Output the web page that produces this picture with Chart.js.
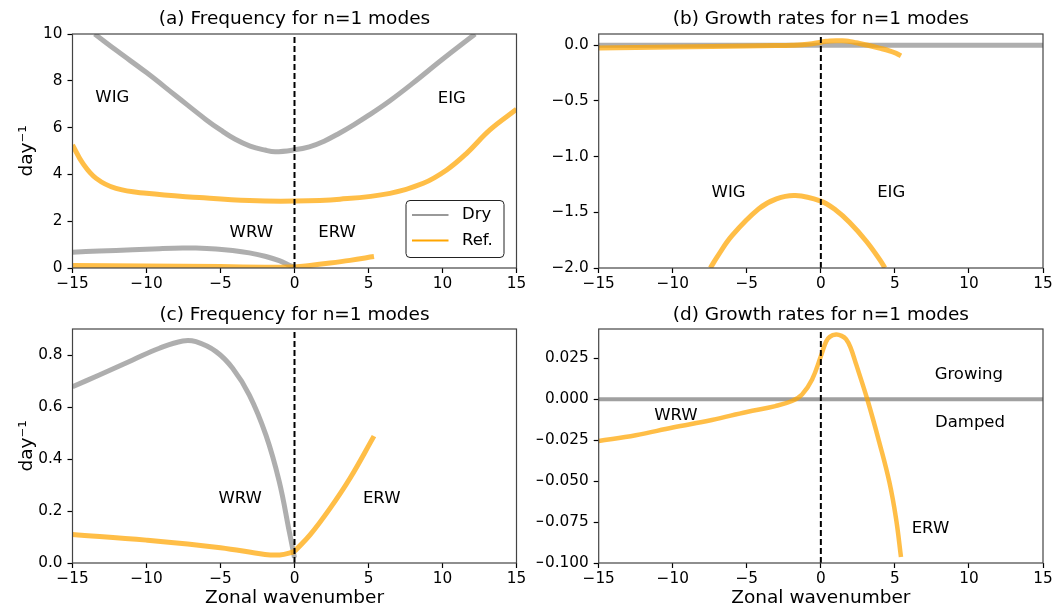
<!DOCTYPE html>
<html lang="en">
<head>
<meta charset="UTF-8">
<title>n=1 modes</title>
<script src="https://cdn.jsdelivr.net/npm/chart.js@4.4.1/dist/chart.umd.min.js"></script>
<style>
    html, body { margin: 0; padding: 0; background: #fff; }
    #fig { position: relative; width: 1056px; height: 609px; }
    #fig canvas { position: absolute; left: 0; top: 0; }
</style>
</head>
<body>
<div id="fig">
    <canvas id="panelA" width="1056" height="609"></canvas>
    <canvas id="panelB" width="1056" height="609"></canvas>
    <canvas id="panelC" width="1056" height="609"></canvas>
    <canvas id="panelD" width="1056" height="609"></canvas>
</div>

<script>
// ---- tick values ----
const kTicks = [-15, -10, -5, 0, 5, 10, 15];
const freqTicks = [0, 2, 4, 6, 8, 10];
const growthTicks = [-2.0, -1.5, -1.0, -0.5, 0.0];
const rossbyFreqTicks = [0, 0.2, 0.4, 0.6, 0.8];
const rossbyGrowthTicks = [-0.1, -0.075, -0.05, -0.025, 0, 0.025];

// ---- axis ranges ----
const kRange = [-15, 15];
const freqRange = [0, 10];
const growthRange = [-2.0, 0.1];
const rossbyFreqRange = [0, 0.9];
const rossbyGrowthRange = [-0.1, 0.043];

// ---- Dry inertia-gravity frequency (WIG for k<0, EIG for k>0) ----
const igDryK    = [-13.5, -12, -10, -8, -6, -5, -4, -3, -2, -1.3, 0, 1, 2, 3, 4, 5, 6.45, 8, 10, 12.2];
const igDryFreq = [10.0, 9.28, 8.35, 7.35, 6.35, 5.9, 5.5, 5.21, 5.04, 4.97, 5.05, 5.18, 5.42, 5.75, 6.12, 6.52, 7.15, 7.9, 8.92, 10.0];

// ---- Ref inertia-gravity frequency ----
const igRefK    = [-15, -14.3, -13.4, -12.06, -10, -6.43, -3.05, 0, 3.07, 6.45, 8.7, 10.28, 11.63, 13.2, 15];
const igRefFreq = [5.26, 4.47, 3.83, 3.40, 3.19, 3.01, 2.88, 2.86, 2.94, 3.19, 3.62, 4.19, 4.9, 5.9, 6.78];

// ---- Dry Rossby frequency (WRW) ----
const wrwDryK    = [-15, -13.19, -10.93, -9.13, -7.55, -6.66, -5.3, -4.18, -3.05, -1.93, -1.03, -0.35, 0];
const wrwDryFreq = [0.678, 0.723, 0.781, 0.826, 0.854, 0.851, 0.813, 0.749, 0.646, 0.492, 0.313, 0.12, 0.02];

// ---- Ref Rossby frequency (WRW for k<0, ERW for k>0) ----
const wrwRefK    = [-15, -10, -5, -2, -1, 0];
const wrwRefFreq = [0.110, 0.088, 0.059, 0.033, 0.031, 0.043];
const erwRefK    = [0, 1.05, 2.4, 3.75, 5.37];
const erwRefFreq = [0.045, 0.108, 0.21, 0.326, 0.488];

// ---- growth rates ----
const dryGrowthK = [-15, 15];
const dryGrowth  = [0, 0];
const igRefGrowthK = [-7.46, -7, -6, -4.2, -3, -1.72, 0, 1, 1.93, 3.07, 4, 4.32];
const igRefGrowth  = [-2.0, -1.9, -1.71, -1.47, -1.38, -1.35, -1.40, -1.48, -1.59, -1.76, -1.93, -2.0];
const rwRefGrowthK = [-15, -12.5, -10, -7.36, -5, -3.07, -1.95, -1.27, -0.59, 0, 0.35, 0.6, 1.03, 1.4, 1.7, 2.0, 2.38, 3.17, 3.95, 4.63, 5.08, 5.41];
const rwRefGrowth  = [-0.0254, -0.0219, -0.0172, -0.0126, -0.0077, -0.0041, -0.001, 0.003, 0.0122, 0.0263, 0.0352, 0.0382, 0.0396, 0.0388, 0.0368, 0.0318, 0.0215, -0.001, -0.0264, -0.0507, -0.073, -0.0963];

const DRY = 'rgba(128,128,128,0.64)';
const REF = 'rgba(255,165,0,0.72)';
const FONT = 'DejaVu Sans';

Chart.defaults.font.family = FONT;
Chart.defaults.color = '#000';

function pts(xs, ys) {
    return xs.map((x, i) => ({ x: x, y: ys[i] }));
}

function curve(xs, ys, color, width, order) {
    return {
        data: pts(xs, ys), showLine: true, borderColor: color, borderWidth: width,
        pointRadius: 0, tension: 0.4, clip: 0, order: order
    };
}

function zeroK(range) {
    return {
        data: pts([0, 0], range), showLine: true, borderColor: '#000', borderWidth: 2,
        borderDash: [6, 3], pointRadius: 0, clip: 0, order: -1
    };
}

const minus = s => s.replace('-', '\u2212');

const framePlugin = {
    id: 'frame',
    afterDatasetsDraw(chart) {
        const a = chart.chartArea, ctx = chart.ctx;
        ctx.save();
        ctx.strokeStyle = '#444';
        ctx.lineWidth = 1.2;
        ctx.strokeRect(a.left, a.top, a.right - a.left, a.bottom - a.top);
        ctx.restore();
    }
};

function textPlugin(labels) {
    return {
        id: 'regionText',
        afterDatasetsDraw(chart) {
            const ctx = chart.ctx, xs = chart.scales.x, ys = chart.scales.y;
            ctx.save();
            ctx.font = '16.5px "' + FONT + '"';
            ctx.fillStyle = '#000';
            ctx.textAlign = 'center';
            ctx.textBaseline = 'middle';
            labels.forEach(l => ctx.fillText(l[0], xs.getPixelForValue(l[1]), ys.getPixelForValue(l[2])));
            ctx.restore();
        }
    };
}

const legendPlugin = {
    id: 'boxLegend',
    afterDraw(chart) {
        const a = chart.chartArea, ctx = chart.ctx;
        const w = 98, h = 57;
        const x0 = a.right - 13 - w, y0 = a.bottom - 11 - h;
        ctx.save();
        ctx.fillStyle = '#fff';
        ctx.strokeStyle = '#222';
        ctx.lineWidth = 1;
        ctx.beginPath();
        ctx.roundRect(x0 + 0.5, y0 + 0.5, w, h, 4);
        ctx.fill();
        ctx.stroke();
        const items = [['Dry', '#999999'], ['Ref.', '#ffa500']];
        ctx.font = '16.5px "' + FONT + '"';
        ctx.textBaseline = 'middle';
        items.forEach((it, i) => {
            const y = y0 + 15 + i * 25.5;
            ctx.strokeStyle = it[1];
            ctx.lineWidth = 2.2;
            ctx.beginPath();
            ctx.moveTo(x0 + 6.5, y);
            ctx.lineTo(x0 + 43, y);
            ctx.stroke();
            ctx.fillStyle = '#000';
            ctx.fillText(it[0], x0 + 56.5, y);
        });
        ctx.restore();
    }
};

function panel(id, o) {
    const yW = 62;
    const lh = 18.5 * 1.2;
    const tickGrid = { drawOnChartArea: false, tickLength: 5, tickColor: '#000', tickWidth: 1.2 };
    const plugins = [framePlugin, textPlugin(o.labels)];
    if (o.legend) plugins.push(legendPlugin);
    return new Chart(document.getElementById(id), {
        type: 'scatter',
        data: { datasets: o.datasets },
        options: {
            responsive: false,
            animation: false,
            layout: {
                padding: {
                    left: o.area[0] - yW, right: 1056 - o.area[2],
                    top: o.titleY - lh / 2, bottom: 609 - o.area[3] - o.xH
                }
            },
            plugins: {
                legend: { display: false },
                tooltip: { enabled: false },
                title: {
                    display: true, text: o.title, fullSize: false, color: '#000',
                    font: { size: 18.5, weight: 'normal' },
                    padding: { top: 0, bottom: o.area[1] - o.titleY - lh / 2 }
                }
            },
            scales: {
                x: {
                    type: 'linear', min: kRange[0], max: kRange[1],
                    afterBuildTicks: s => { s.ticks = kTicks.map(v => ({ value: v })); },
                    afterFit: s => { s.height = o.xH; },
                    grid: tickGrid, border: { display: false },
                    ticks: { padding: 2, autoSkip: false, maxRotation: 0, font: { size: 15.3 }, color: '#000',
                             callback: v => minus(String(v)) },
                    title: { display: !!o.xLabel, text: o.xLabel || '', color: '#000',
                             font: { size: 18.5 }, padding: { top: 0, bottom: 0 } }
                },
                y: {
                    type: 'linear', min: o.yRange[0], max: o.yRange[1],
                    afterBuildTicks: s => { s.ticks = o.yTicks.map(v => ({ value: v })); },
                    afterFit: s => { s.width = yW; },
                    grid: tickGrid, border: { display: false },
                    ticks: { padding: 5, autoSkip: false, font: { size: 15.3 }, color: '#000',
                             callback: v => minus(o.yFmt(v)) },
                    title: { display: !!o.yLabel, text: o.yLabel || '', color: '#000',
                             font: { size: 18.5 }, padding: { top: 6, bottom: 0 } }
                }
            }
        },
        plugins: plugins
    });
}

// (a) frequency, full range
panel('panelA', {
    title: '(a) Frequency for n=1 modes',
    area: [72.5, 34, 516.5, 268], titleY: 19, xH: 30,
    yRange: freqRange, yTicks: freqTicks, yFmt: v => String(v), yLabel: 'day\u207B\u00B9',
    legend: true,
    datasets: [
        curve(igDryK, igDryFreq, DRY, 5, 2),
        curve(wrwDryK, wrwDryFreq, DRY, 5, 2),
        curve(igRefK, igRefFreq, REF, 5, 1),
        curve(wrwRefK, wrwRefFreq, REF, 5, 1),
        curve(erwRefK, erwRefFreq, REF, 5, 1),
        zeroK(freqRange)
    ],
    labels: [['WIG', -12.31, 7.27], ['EIG', 10.63, 7.23], ['WRW', -2.92, 1.5], ['ERW', 2.88, 1.5]]
});

// (b) growth rates, full range
panel('panelB', {
    title: '(b) Growth rates for n=1 modes',
    area: [598.7, 34, 1043, 268], titleY: 19, xH: 30,
    yRange: growthRange, yTicks: growthTicks, yFmt: v => v.toFixed(1),
    datasets: [
        curve(dryGrowthK, dryGrowth, DRY, 5, 2),
        curve(igRefGrowthK, igRefGrowth, REF, 5, 1),
        curve(rwRefGrowthK, rwRefGrowth, REF, 5, 1),
        zeroK(growthRange)
    ],
    labels: [['WIG', -6.23, -1.323], ['EIG', 4.75, -1.323]]
});

// (c) Rossby frequency
panel('panelC', {
    title: '(c) Frequency for n=1 modes',
    area: [72.5, 329, 516.5, 563], titleY: 315.5, xH: 46, xLabel: 'Zonal wavenumber',
    yRange: rossbyFreqRange, yTicks: rossbyFreqTicks, yFmt: v => v.toFixed(1), yLabel: 'day\u207B\u00B9',
    datasets: [
        curve(wrwDryK, wrwDryFreq, DRY, 5, 2),
        curve(wrwRefK, wrwRefFreq, REF, 5, 1),
        curve(erwRefK, erwRefFreq, REF, 5, 1),
        zeroK(rossbyFreqRange)
    ],
    labels: [['WRW', -3.67, 0.247], ['ERW', 5.89, 0.247]]
});

// (d) Rossby growth rates
panel('panelD', {
    title: '(d) Growth rates for n=1 modes',
    area: [598.7, 329, 1043, 563], titleY: 315.5, xH: 46, xLabel: 'Zonal wavenumber',
    yRange: rossbyGrowthRange, yTicks: rossbyGrowthTicks, yFmt: v => v.toFixed(3),
    datasets: [
        curve(dryGrowthK, dryGrowth, 'rgba(128,128,128,0.75)', 4, 2),
        curve(rwRefGrowthK, rwRefGrowth, REF, 4.5, 1),
        zeroK(rossbyGrowthRange)
    ],
    labels: [['WRW', -9.79, -0.0097], ['Growing', 9.99, 0.0148], ['Damped', 10.07, -0.0144], ['ERW', 7.4, -0.0789]]
});
</script>
</body>
</html>
